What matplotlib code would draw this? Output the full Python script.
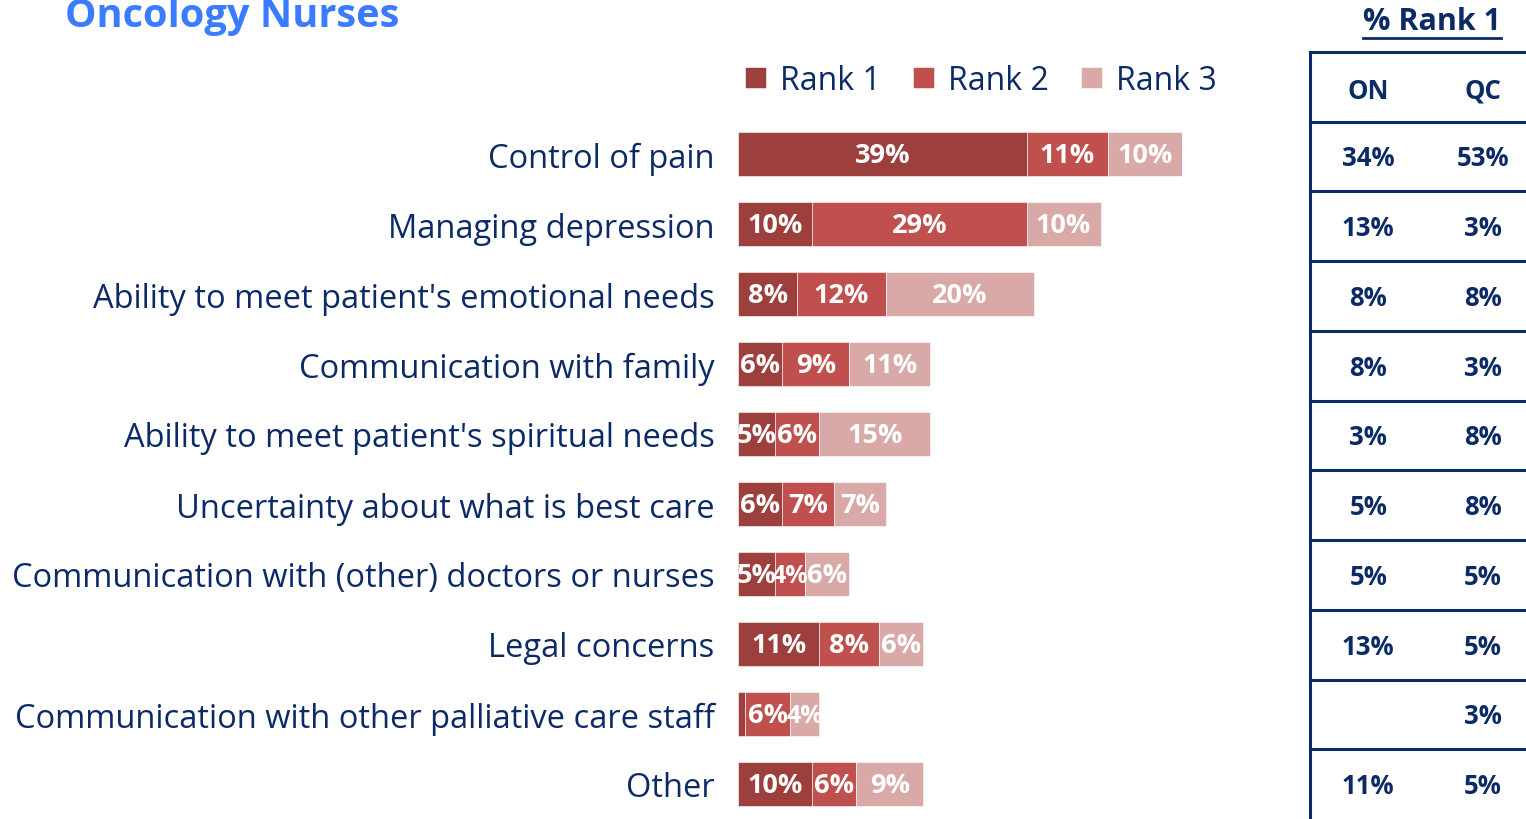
import matplotlib

matplotlib.use("Agg")
import matplotlib.pyplot as plt
import numpy as np
from matplotlib.lines import Line2D

plt.rcParams["font.family"] = ["Open Sans", "DejaVu Sans"]

# data
categories = [
    "Control of pain",
    "Managing depression",
    "Ability to meet patient's emotional needs",
    "Communication with family",
    "Ability to meet patient's spiritual needs",
    "Uncertainty about what is best care",
    "Communication with (other) doctors or nurses",
    "Legal concerns",
    "Communication with other palliative care staff",
    "Other",
]
rank1 = [39, 10, 8, 6, 5, 6, 5, 11, 1, 10]
rank2 = [11, 29, 12, 9, 6, 7, 4, 8, 6, 6]
rank3 = [10, 10, 20, 11, 15, 7, 6, 6, 4, 9]
series_names = ["Rank 1", "Rank 2", "Rank 3"]
on_rank1 = [34, 13, 8, 8, 3, 5, 5, 13, None, 11]
qc_rank1 = [53, 3, 8, 3, 8, 8, 5, 5, 3, 5]

COLORS = ["#9C3F3D", "#C0504D", "#D9A9A8"]
NAVY = "#0B2A66"
TITLE_BLUE = "#3A7BFF"

W, H = 1526, 820
fig = plt.figure(figsize=(W / 100, H / 100), dpi=100)


def px_axes(x0, y0, x1, y1):
    """Axes from pixel box (top-left origin)."""
    return fig.add_axes([x0 / W, 1 - y1 / H, (x1 - x0) / W, (y1 - y0) / H])


# --- stacked bars ---
ax = px_axes(738, 120, 1182, 820)
y = np.arange(len(categories))
left = np.zeros(len(categories))
containers = []
for vals, color, name in zip([rank1, rank2, rank3], COLORS, series_names):
    vals = np.array(vals, dtype=float)
    bc = ax.barh(y, vals, left=left, height=0.63, color=color,
                 edgecolor="#FFFFFF", linewidth=0.4, label=name)
    containers.append(bc)
    for yi, (l, v) in enumerate(zip(left, vals)):
        if v >= 2:
            # narrow segments get a slightly smaller label
            fs = 19.5 if v >= 5 else 18
            ax.text(l + v / 2, yi + 0.02, f"{int(v)}%", ha="center",
                    va="center", color="white", fontsize=fs,
                    fontweight="bold")
    left += vals

ax.set_xlim(0, 60)
ax.set_ylim(len(categories) - 0.5, -0.5)
ax.set_yticks(y)
ax.set_yticklabels(categories, fontsize=23.5, color=NAVY)
ax.tick_params(axis="y", length=0, pad=17)
ax.set_xticks([])
for s in ax.spines.values():
    s.set_visible(False)

fig.legend(handles=containers, labels=series_names, loc="center",
           bbox_to_anchor=(981 / W, 1 - 81 / H), ncol=3, frameon=False,
           fontsize=23, labelcolor=NAVY, handlelength=0.65, handleheight=0.65,
           handletextpad=0.45, columnspacing=1.0)

fig.text(65 / W, 1 - 17 / H, "Oncology Nurses", fontsize=28.6,
         fontweight="bold", color=TITLE_BLUE, ha="left", va="center")

# --- % Rank 1 table ---
tax = px_axes(1310, 53, W, 820)
tax.set_xlim(0, 1)
tax.set_ylim(len(categories) - 0.5, -1.5)
tax.axis("off")
tax.axvline(0, color=NAVY, linewidth=2.2, clip_on=False)
for b in np.arange(-1.5, len(categories) - 0.5, 1.0):
    tax.axhline(b, color=NAVY, linewidth=2.2, clip_on=False)
cols = [0.27, 0.80]
for cx, head in zip(cols, ["ON", "QC"]):
    tax.text(cx, -0.95, head, ha="center", va="center", fontsize=18.5,
             fontweight="bold", color=NAVY)
for i, (a, b) in enumerate(zip(on_rank1, qc_rank1)):
    for cx, v in zip(cols, [a, b]):
        if v is not None:
            tax.text(cx, i + 0.02, f"{v}%", ha="center", va="center",
                     fontsize=18.5, fontweight="bold", color=NAVY)

hdr = fig.text(1432 / W, 1 - 22 / H, "% Rank 1", ha="center", va="center",
               fontsize=22, fontweight="bold", color=NAVY)
fig.canvas.draw()
bb = hdr.get_window_extent().transformed(fig.transFigure.inverted())
fig.add_artist(Line2D([bb.x0, bb.x1], [1 - 39 / H] * 2, color=NAVY,
                      linewidth=2, transform=fig.transFigure))

fig.savefig("out.png", dpi=100, facecolor="white")
